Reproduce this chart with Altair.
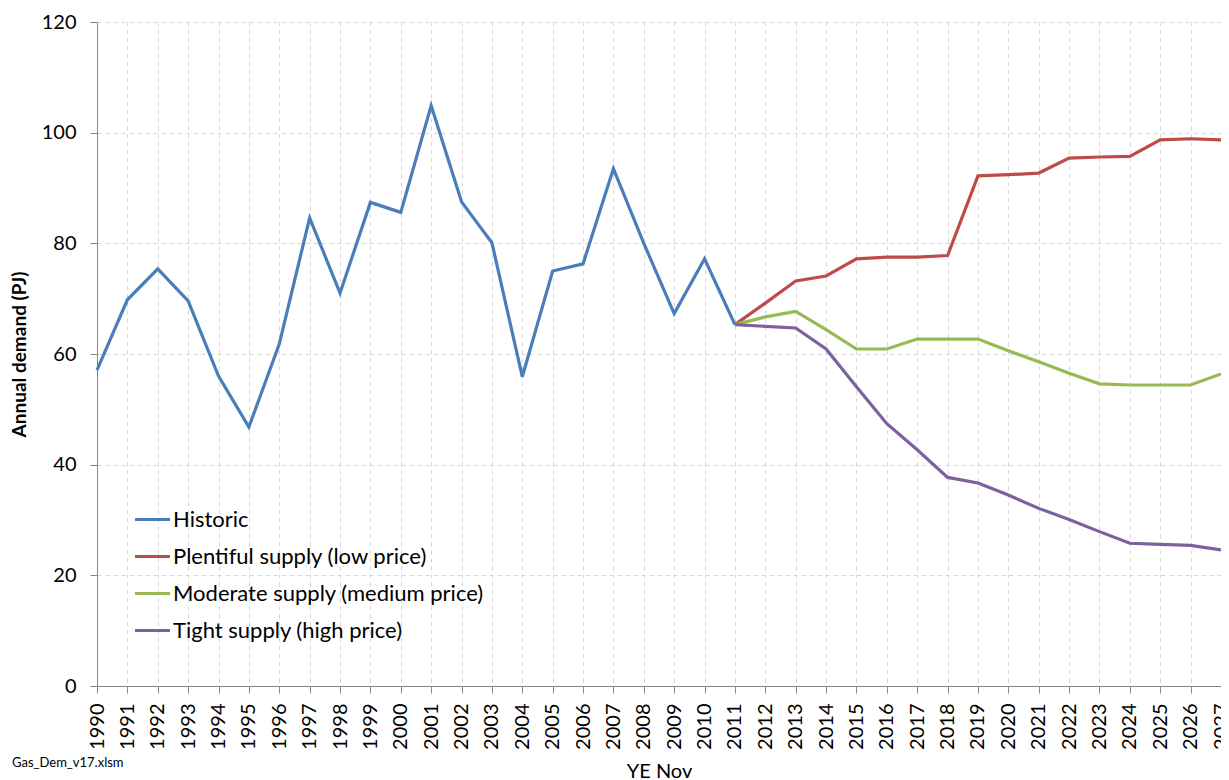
import altair as alt
import pandas as pd

hist_years = list(range(1990, 2012))
hist_vals = [57.1, 69.8, 75.4, 69.6, 56.0, 46.8, 61.8, 84.6, 71.0, 87.4, 85.6,
             104.9, 87.5, 80.1, 55.9, 75.0, 76.3, 93.5, 80.0, 67.3, 77.2, 65.3]

scen_years = list(range(2011, 2028))
plentiful = [65.3, 69.2, 73.2, 74.1, 77.2, 77.5, 77.5, 77.8, 92.2, 92.4, 92.7,
             95.4, 95.6, 95.7, 98.7, 98.9, 98.7]
moderate = [65.3, 66.7, 67.7, 64.4, 60.9, 60.9, 62.7, 62.7, 62.7, 60.6, 58.6,
            56.5, 54.6, 54.4, 54.4, 54.4, 56.4]
tight = [65.3, 65.0, 64.7, 60.9, 54.1, 47.4, 42.7, 37.7, 36.7, 34.5, 32.1,
         30.1, 27.9, 25.8, 25.6, 25.4, 24.6]

series_names = ["Historic", "Plentiful supply (low price)",
                "Moderate supply (medium price)", "Tight supply (high price)"]
series_colors = ["#4A7EBB", "#BE4B48", "#98B954", "#7D60A0"]

rows = []
for y, v in zip(hist_years, hist_vals):
    rows.append({"series": series_names[0], "year": y, "value": v})
for name, vals in zip(series_names[1:], [plentiful, moderate, tight]):
    for y, v in zip(scen_years, vals):
        rows.append({"series": name, "year": y, "value": v})
df = pd.DataFrame(rows)

FONT = "Lato"
year_ticks = list(range(1990, 2028))

lines = alt.Chart(df).mark_line(strokeWidth=3.2, clip=False).encode(
    x=alt.X("year:Q",
            scale=alt.Scale(domain=[1990, 2027], nice=False, zero=False),
            axis=alt.Axis(values=year_ticks, format="d", labelAngle=270,
                          labelAlign="right", labelBaseline="middle",
                          labelPadding=10, labelFontSize=20, labelFont=FONT,
                          labelColor="#000000", tickSize=7, tickColor="#868686",
                          domainColor="#868686", gridDash=[4, 4],
                          gridColor="#d4d4d4", title="YE  Nov",
                          titleFontSize=20, titleFont=FONT,
                          titleFontWeight="normal", titleColor="#000000",
                          titlePadding=12, labelOverlap=False)),
    y=alt.Y("value:Q",
            scale=alt.Scale(domain=[0, 120], nice=False),
            axis=alt.Axis(values=[0, 20, 40, 60, 80, 100, 120],
                          labelFontSize=20, labelFont=FONT,
                          labelColor="#000000", labelPadding=14, tickSize=7,
                          tickColor="#868686", domainColor="#868686",
                          gridDash=[4, 4], gridColor="#d4d4d4",
                          title="Annual demand (PJ)", titleFontSize=19,
                          titleFont=FONT, titleFontWeight="bold",
                          titleColor="#000000", titlePadding=12)),
    color=alt.Color("series:N",
                    scale=alt.Scale(domain=series_names, range=series_colors),
                    legend=alt.Legend(orient="none", legendX=36, legendY=478,
                                      title=None, symbolType="stroke",
                                      symbolSize=1225, symbolStrokeWidth=3.2,
                                      labelFontSize=22, labelFont=FONT,
                                      labelColor="#000000", rowPadding=6,
                                      labelOffset=1, padding=0, labelLimit=0)),
    order="year:Q",
)

note = alt.Chart(pd.DataFrame({"t": ["Gas_Dem_v17.xlsm"]})).mark_text(
    align="left", baseline="middle", fontSize=13, font=FONT, color="#000000"
).encode(x=alt.value(-85), y=alt.value(741), text="t:N")

chart = alt.layer(lines, note).properties(
    width=1124, height=664,
    autosize=alt.AutoSizeParams(type="none"),
    padding={"left": 89, "top": 14, "right": 0, "bottom": 100},
).configure_view(stroke=None)

chart.save("out.html", embed_options={"renderer": "svg", "actions": False})
